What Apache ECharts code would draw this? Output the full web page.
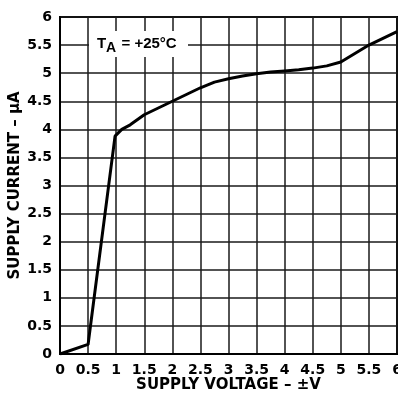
<!DOCTYPE html>
<html>
<head>
<meta charset="utf-8">
<style>
  html, body { margin: 0; padding: 0; background: #fff; }
  #chart { width: 398px; height: 396px; }
</style>
<script src="https://cdn.jsdelivr.net/npm/echarts@6/dist/echarts.min.js"></script>
</head>
<body>
<div id="chart"></div>
<script>
// Supply current vs supply voltage at TA = +25°C
const voltage = [0, 0.5, 0.98, 1.1, 1.25, 1.5, 1.75, 2, 2.25, 2.5, 2.75, 3, 3.25, 3.5, 3.75, 4, 4.25, 4.5, 4.75, 5, 5.25, 5.5, 5.75, 6];
const current = [0, 0.17, 3.88, 4.0, 4.08, 4.26, 4.38, 4.5, 4.62, 4.74, 4.84, 4.9, 4.95, 4.99, 5.02, 5.04, 5.06, 5.09, 5.13, 5.2, 5.35, 5.5, 5.62, 5.74];

const xTickLabels = ['0', '0.5', '1', '1.5', '2', '2.5', '3', '3.5', '4', '4.5', '5', '5.5', '6'];
const yTickLabels = ['0', '0.5', '1', '1.5', '2', '2.5', '3', '3.5', '4', '4.5', '5', '5.5', '6'];

const xTitle = 'SUPPLY VOLTAGE \u2013 \u00B1V';
const yTitle = 'SUPPLY CURRENT \u2013 \u03BCA';

const tickFont = { fontFamily: 'DejaVu Sans', fontWeight: 'bold', fontSize: 14, color: '#000' };
const nameFont = { fontFamily: 'DejaVu Sans', fontWeight: 'bold', fontSize: 15, color: '#000' };

const chart = echarts.init(document.getElementById('chart'), null, { renderer: 'canvas' });

chart.setOption({
  animation: false,
  backgroundColor: '#fff',
  grid: {
    left: 60, right: 1, top: 17, bottom: 42,
    outerBoundsMode: 'none', containLabel: false,
    show: true, borderColor: '#000', borderWidth: 2, backgroundColor: 'transparent'
  },
  xAxis: {
    type: 'value', min: 0, max: 6, interval: 0.5,
    name: xTitle, nameLocation: 'middle', nameGap: 24, nameMoveOverlap: false,
    nameTextStyle: nameFont,
    axisLine: { show: true, lineStyle: { color: '#000', width: 2 } },
    axisTick: { show: false },
    axisLabel: Object.assign({ margin: 9, formatter: (v) => xTickLabels[Math.round(v / 0.5)] }, tickFont),
    splitLine: { show: true, lineStyle: { color: '#1a1a1a', width: 1.5 } }
  },
  yAxis: {
    type: 'value', min: 0, max: 6, interval: 0.5,
    name: yTitle, nameLocation: 'middle', nameGap: 37, nameMoveOverlap: false,
    nameTextStyle: nameFont,
    axisLine: { show: true, lineStyle: { color: '#000', width: 2 } },
    axisTick: { show: false },
    axisLabel: Object.assign({ margin: 8, formatter: (v) => yTickLabels[Math.round(v / 0.5)] }, tickFont),
    splitLine: { show: true, lineStyle: { color: '#1a1a1a', width: 1.5 } }
  },
  graphic: [
    { type: 'rect', shape: { x: 89, y: 31, width: 99, height: 26 }, style: { fill: '#fff' }, z: 10 },
    { type: 'text', x: 97, y: 44, z: 11,
      style: { text: 'T', fontFamily: 'Liberation Sans', fontWeight: 'bold', fontSize: 15, fill: '#000', verticalAlign: 'middle' } },
    { type: 'text', x: 106, y: 48.5, z: 11,
      style: { text: 'A', fontFamily: 'Liberation Sans', fontWeight: 'bold', fontSize: 14, fill: '#000', verticalAlign: 'middle' } },
    { type: 'text', x: 121.5, y: 44, z: 11,
      style: { text: '= +25\u00B0C', fontFamily: 'Liberation Sans', fontWeight: 'bold', fontSize: 15, fill: '#000', verticalAlign: 'middle' } }
  ],
  series: [{
    type: 'line',
    data: voltage.map((v, i) => [v, current[i]]),
    showSymbol: false,
    smooth: false,
    lineStyle: { color: '#000', width: 3 },
    z: 5
  }]
});
</script>
</body>
</html>
